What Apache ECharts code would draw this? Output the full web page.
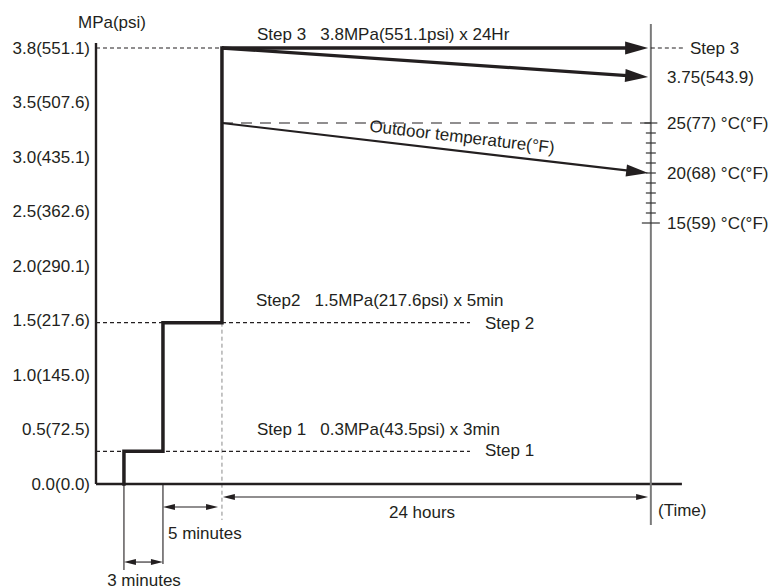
<!DOCTYPE html>
<html><head><meta charset="utf-8">
<script src="https://cdn.jsdelivr.net/npm/echarts@6/dist/echarts.min.js"></script>
<style>html,body{margin:0;padding:0;background:#fff}#c{width:771px;height:588px}</style>
</head><body><div id="c"></div>
<script>
// ---------------- DATA (schematic diagram) ----------------
// Left axis is drawn in "slots": one label every 0.5, the top slot is labelled 3.8 MPa.
const yTickSlots  = [0, 0.5, 1, 1.5, 2, 2.5, 3, 3.5, 4];
const yTickLabels = ['0.0(0.0)','0.5(72.5)','1.0(145.0)','1.5(217.6)','2.0(290.1)','2.5(362.6)','3.0(435.1)','3.5(507.6)','3.8(551.1)'];

const stepNames      = ['Step 1', 'Step2', 'Step 3'];
const stepShortNames = ['Step 1', 'Step 2', 'Step 3'];
const stepMPa        = ['0.3', '1.5', '3.8'];
const stepPsi        = ['43.5', '217.6', '551.1'];
const stepDuration   = ['3min', '5min', '24Hr'];
const stepLevelSlot  = [0.3, 1.48, 4.0];       // drawn height of each step on the left axis
const stepStartTime  = [2.07, 4.96, 9.33];     // schematic time of each pressure rise
const testEndTime    = 40.9;                   // end of the 24 h hold
const scaleLineTime  = 41.1;                   // right-hand scale line
const axisEndTime    = 43.4;

const dropEndSlot  = 3.734;                    // pressure after 24 h
const dropLabel    = '3.75(543.9)';

const tempTicksC   = [15, 16, 17, 18, 19, 20, 21, 22, 23, 24, 25];
const tempLabelC   = [15, 20, 25];
const tempLabelF   = [59, 68, 77];
const outdoorTempC = [25, 20];                 // at start / end of the 24 h hold

const durationLabels = ['3 minutes', '5 minutes', '24 hours'];

// ---------------- LAYOUT / STYLE ----------------
const INK = '#231f20', GREY = '#7a7a7a';
const FONT = '17px "Liberation Sans", Arial, Helvetica, sans-serif';
const dimY = { h24: -0.119, m5: -0.211, m3: -0.716, m3LineA: -0.79, m3LineB: -0.735, greyDashEnd: -0.33, axisTop: 4.046, scaleTop: 4.22, scaleBottom: -0.376 };
const dashEndTime = 27.7, step3DashEnd = 43.63, m5ArrowEnd = 9.04, h24ArrowStart = 9.4;

function seg(points, opts) {
  return Object.assign({
    type: 'line', data: points, symbol: 'none', silent: true, animation: false,
    lineStyle: { color: INK, width: 1 }, z: 2
  }, opts || {});
}
function arrows(items, yAxisIndex, lw, headLen, headW, z) {
  return {
    type: 'custom', yAxisIndex, silent: true, animation: false, z: z || 3,
    data: items, encode: { x: [0, 2], y: [1, 3] },
    renderItem(params, api) {
      const a = api.coord([api.value(0), api.value(1)]);
      const b = api.coord([api.value(2), api.value(3)]);
      const both = api.value(4) === 1;
      const dx = b[0] - a[0], dy = b[1] - a[1], L = Math.hypot(dx, dy);
      const ux = dx / L, uy = dy / L;
      const head = (tip, sx, sy) => {
        const bx = tip[0] - sx * headLen, by = tip[1] - sy * headLen;
        return { type: 'polygon', shape: { points: [tip, [bx - sy * headW / 2, by + sx * headW / 2], [bx + sy * headW / 2, by - sx * headW / 2]] }, style: { fill: INK } };
      };
      const s0 = both ? [a[0] + ux * headLen * 0.6, a[1] + uy * headLen * 0.6] : a;
      const s1 = [b[0] - ux * headLen * 0.6, b[1] - uy * headLen * 0.6];
      const ch = [{ type: 'line', shape: { x1: s0[0], y1: s0[1], x2: s1[0], y2: s1[1] }, style: { stroke: INK, lineWidth: lw } }, head(b, ux, uy)];
      if (both) ch.push(head(a, -ux, -uy));
      return { type: 'group', children: ch };
    }
  };
}
function txt(text, x, y, align, extra) {
  return Object.assign({
    type: 'text', x, y, silent: true, z: 10,
    style: { text, font: FONT, fill: INK, align: align || 'left', verticalAlign: 'middle', textAlign: align || 'left', textVerticalAlign: 'middle' }
  }, extra || {});
}

const profile = [[stepStartTime[0], 0]];
for (let i = 0; i < 3; i++) {
  profile.push([stepStartTime[i], i === 0 ? 0 : stepLevelSlot[i - 1]]);
  profile.push([stepStartTime[i], stepLevelSlot[i]]);
  if (i < 2) profile.push([stepStartTime[i + 1], stepLevelSlot[i]]);
}

const DASH = { color: INK, width: 1.2, type: [4, 3] };
const series = [
  // axes
  seg([[0, 0], [axisEndTime, 0]], { lineStyle: { color: INK, width: 2.4 } }),
  seg([[0, 0], [0, dimY.axisTop]], { lineStyle: { color: INK, width: 2.4 } }),
  seg([[scaleLineTime, dimY.scaleBottom], [scaleLineTime, dimY.scaleTop]], { lineStyle: { color: GREY, width: 2 } }),
  // reference dashes
  seg([[0, stepLevelSlot[2]], [stepStartTime[2], stepLevelSlot[2]]], { lineStyle: DASH }),
  seg([[0, stepLevelSlot[1]], [dashEndTime, stepLevelSlot[1]]], { lineStyle: DASH }),
  seg([[0, stepLevelSlot[0]], [dashEndTime, stepLevelSlot[0]]], { lineStyle: DASH }),
  seg([[scaleLineTime, stepLevelSlot[2]], [step3DashEnd, stepLevelSlot[2]]], { lineStyle: DASH }),
  seg([[stepStartTime[2], outdoorTempC[0]], [scaleLineTime, outdoorTempC[0]]], { yAxisIndex: 1, lineStyle: { color: INK, width: 1.2, type: [11, 8] } }),
  seg([[stepStartTime[2], stepLevelSlot[1]], [stepStartTime[2], dimY.greyDashEnd]], { lineStyle: { color: '#8a8a8a', width: 1, type: [4, 3] }, z: 1 }),
  // extension lines for 3 / 5 minutes
  seg([[stepStartTime[0], 0], [stepStartTime[0], dimY.m3LineA]], { lineStyle: { color: INK, width: 1.1 } }),
  seg([[stepStartTime[1], 0], [stepStartTime[1], dimY.m3LineB]], { lineStyle: { color: INK, width: 1.1 } }),
  // pressure profile
  seg(profile, { lineStyle: { color: INK, width: 3.5, cap: 'square', join: 'miter' }, z: 4 }),
  // temperature scale ticks
  {
    type: 'scatter', yAxisIndex: 1, silent: true, animation: false, z: 3,
    symbol: 'rect', itemStyle: { color: '#333' },
    data: tempTicksC.map(t => ({ value: [scaleLineTime, t], symbolSize: t === 15 ? [18, 1.5] : (t === 25 ? [13, 1.5] : [10, 1.5]) }))
  },
  // arrows
  arrows([[stepStartTime[2], stepLevelSlot[2], testEndTime, stepLevelSlot[2], 0],
          [stepStartTime[2], stepLevelSlot[2], testEndTime, dropEndSlot, 0]], 0, 3.3, 23, 13, 5),
  arrows([[stepStartTime[2], outdoorTempC[0], testEndTime, outdoorTempC[1], 0]], 1, 2.2, 22, 12, 5),
  arrows([[stepStartTime[1], dimY.m5, m5ArrowEnd, dimY.m5, 1],
          [stepStartTime[0], dimY.m3, stepStartTime[1], dimY.m3, 1],
          [h24ArrowStart, dimY.h24, testEndTime, dimY.h24, 1]], 0, 1.1, 12, 6, 3)
];

const stepTitle = i => stepNames[i] + '   ' + stepMPa[i] + 'MPa(' + stepPsi[i] + 'psi) x ' + stepDuration[i];

const chart = echarts.init(document.getElementById('c'), null, { renderer: 'svg' });
chart.setOption({
  animation: false,
  backgroundColor: '#fff',
  grid: { left: 96, right: 0, top: 15.3, bottom: 5.9, outerBoundsMode: 'none', containLabel: false },
  xAxis: { type: 'value', min: 0, max: 50, show: false },
  yAxis: [
    { type: 'value', min: -0.9, max: 4.3, axisLine: { show: false }, axisTick: { show: false }, splitLine: { show: false },
      axisLabel: { customValues: yTickSlots, margin: 6, color: INK, fontSize: 17, fontFamily: '"Liberation Sans", Arial, sans-serif',
        formatter: v => yTickLabels[Math.round(v * 2)] } },
    { type: 'value', position: 'right', offset: -120, min: -20.91, max: 35.77, axisLine: { show: false }, axisTick: { show: false }, splitLine: { show: false },
      axisLabel: { customValues: tempLabelC, margin: 16, color: INK, fontSize: 17, fontFamily: '"Liberation Sans", Arial, sans-serif',
        formatter: v => v + '(' + tempLabelF[tempLabelC.indexOf(v)] + ') °C(°F)' } }
  ],
  series,
  graphic: [
    txt('MPa(psi)', 112, 22, 'center'),
    txt(stepTitle(2), 257, 34),
    txt(stepTitle(1), 256, 300),
    txt(stepTitle(0), 257, 429),
    txt(stepShortNames[2], 690, 48),
    txt(stepShortNames[1], 485, 323),
    txt(stepShortNames[0], 485, 450),
    txt(dropLabel, 667, 77),
    txt('Outdoor temperature(°F)', 462, 137, 'center', { rotation: -0.117 }),
    txt(durationLabels[2], 422, 512, 'center'),
    txt(durationLabels[1], 168, 533),
    txt(durationLabels[0], 144, 580, 'center'),
    txt('(Time)', 658, 510)
  ]
});
</script></body></html>
